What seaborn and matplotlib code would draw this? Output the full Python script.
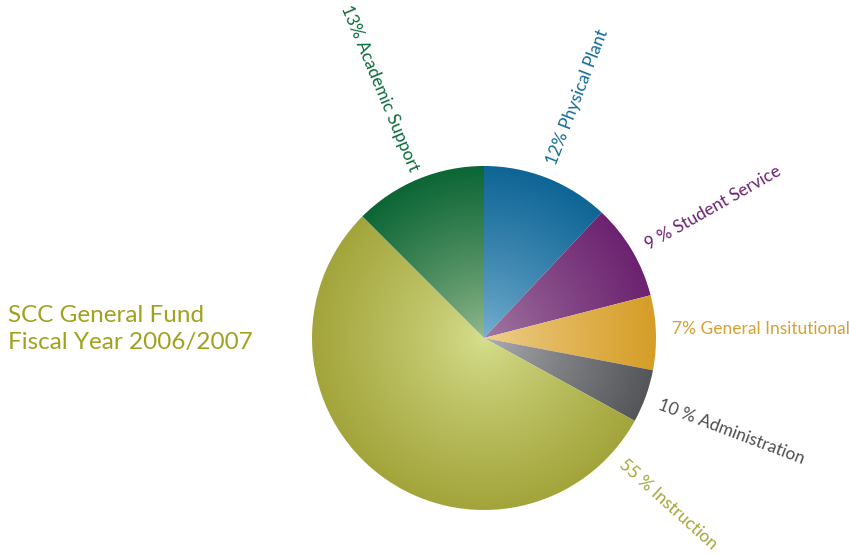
import numpy as np
import matplotlib
matplotlib.use("Agg")
import matplotlib.pyplot as plt
import seaborn as sns
from matplotlib.colors import LinearSegmentedColormap

sns.set_theme(style="white")
plt.rcParams['font.family'] = ['Lato', 'DejaVu Sans']

# ---- data ----
categories = ["Physical Plant", "Student Service", "General Insitutional",
              "Administration", "Instruction", "Academic Support"]
shares = [12, 9, 7, 5, 54.5, 12.5]          # drawn slice sizes
labels = ["12% Physical Plant", "9 % Student Service", "7% General Insitutional",
          "10 % Administration", "55 % Instruction", "13% Academic Support"]
title_lines = ["SCC General Fund", "Fiscal Year 2006/2007"]

# ---- styles ----
rim_colors = ["#0e6596", "#6c2270", "#d69e28", "#55565a", "#a3a53b", "#0c6636"]
center_colors = ["#7ab2d2", "#a47ca4", "#f0d292", "#b0b2b6", "#d8e090", "#98bc90"]
text_colors = ["#156b99", "#6b2170", "#d4a132", "#4d4d50", "#a3a63a", "#0c6b3a"]
# label placement: (angle deg, radius px, rotation, ha)
label_layout = [(68.8, 186, 68.8, "left"), (29.6, 187, 29.6, "left"),
                (2.7, 188, 0, "left"), (-20.8, 187, -20.8, "left"),
                (-42.0, 185, -42.0, "left"), (112.6, 181, -67.4, "right")]

W, H = 849, 555
fig = plt.figure(figsize=(W / 100, H / 100), dpi=100)
ax = fig.add_axes([0, 0, 1, 1])

cx, cy, R = 484, H - 338, 172
wedges, _ = ax.pie(shares, startangle=90, counterclock=False, radius=R,
                   center=(cx, cy), frame=True,
                   wedgeprops=dict(linewidth=0, edgecolor="none"))
ax.set_xlim(0, W)
ax.set_ylim(0, H)
ax.set_aspect("equal")
ax.axis("off")

# radial gradient image
n = 400
xs = np.linspace(cx - R, cx + R, n)
ys = np.linspace(cy - R, cy + R, n)
XX, YY = np.meshgrid(xs, ys)
rr = np.clip(np.sqrt((XX - cx) ** 2 + (YY - cy) ** 2) / R, 0, 1)
grad = rr ** 0.8

for w, c0, c1 in zip(wedges, center_colors, rim_colors):
    w.set_facecolor("none")
    cmap = LinearSegmentedColormap.from_list("g", [c0, c1])
    im = ax.imshow(grad, cmap=cmap, extent=(cx - R, cx + R, cy - R, cy + R),
                   origin="lower", vmin=0, vmax=1, interpolation="bilinear", zorder=1)
    im.set_clip_path(w)

for lab, col, (ang, rad, rot, ha) in zip(labels, text_colors, label_layout):
    a = np.deg2rad(ang)
    ax.text(cx + rad * np.cos(a), cy + rad * np.sin(a), lab, color=col,
            fontsize=12.5, rotation=rot, rotation_mode="anchor",
            ha=ha, va="center", zorder=3)

ax.text(8, H - 315, title_lines[0], color="#a0a21e", fontsize=17.5,
        ha="left", va="center")
ax.text(8, H - 343, title_lines[1], color="#a0a21e", fontsize=17.5,
        ha="left", va="center")

fig.savefig("out.png", dpi=100, facecolor="white")
